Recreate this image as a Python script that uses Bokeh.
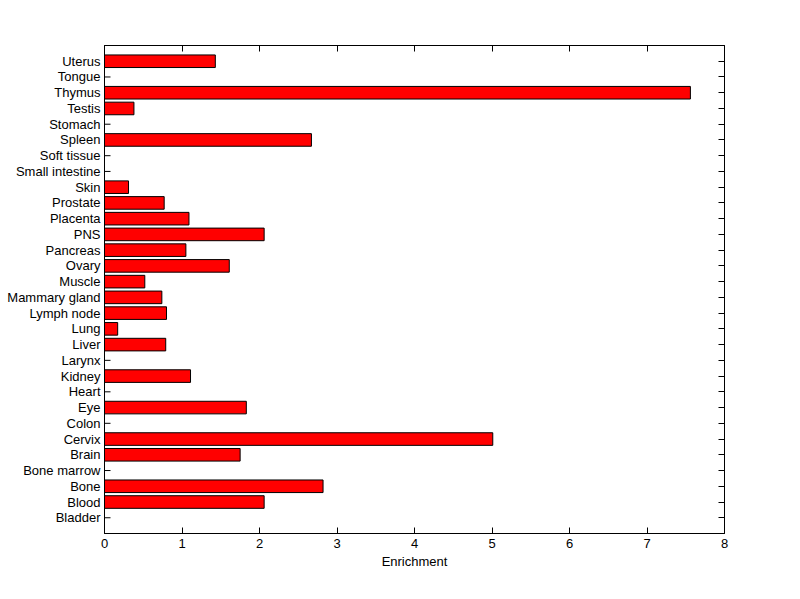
import math
from bokeh.plotting import figure
from bokeh.models import Range1d, FixedTicker, LinearAxis
from bokeh.embed import file_html
from bokeh.resources import INLINE

tissues = ["Bladder", "Blood", "Bone", "Bone marrow", "Brain", "Cervix", "Colon", "Eye",
           "Heart", "Kidney", "Larynx", "Liver", "Lung", "Lymph node", "Mammary gland",
           "Muscle", "Ovary", "Pancreas", "PNS", "Placenta", "Prostate", "Skin",
           "Small intestine", "Soft tissue", "Spleen", "Stomach", "Testis", "Thymus",
           "Tongue", "Uterus"]
enrichment = [0.0, 2.06, 2.82, 0.0, 1.75, 5.01, 0.0, 1.83,
              0.0, 1.11, 0.0, 0.79, 0.17, 0.80, 0.74,
              0.52, 1.61, 1.05, 2.06, 1.09, 0.77, 0.31,
              0.0, 0.0, 2.67, 0.0, 0.38, 7.56,
              0.0, 1.43]
x_ticks = [0, 1, 2, 3, 4, 5, 6, 7, 8]

positions = list(range(1, len(tissues) + 1))
FONT = "Liberation Sans"

p = figure(width=784, height=583, output_backend="svg", toolbar_location=None,
           x_range=Range1d(0, 8), y_range=Range1d(0, len(tissues) + 1),
           x_axis_location=None, y_axis_location=None,
           min_border_left=104, min_border_right=56, min_border_top=45, min_border_bottom=42)
p.frame_width = 620
p.frame_height = 488
p.grid.visible = False
p.outline_line_color = "black"
p.outline_line_width = 1
p.background_fill_color = "white"
p.border_fill_color = "white"

# inward tick marks on the left edge, drawn beneath the bars
p.ray(x=[0] * len(positions), y=positions, length=6, length_units="screen",
      angle=0, line_color="black", line_width=1, level="underlay")

p.hbar(y=positions, right=enrichment, left=0, height=0.8,
       fill_color="#ff0000", line_color="black", line_width=1)

label_map = {pos: name for pos, name in zip(positions, tissues)}


def style(ax, labels=True):
    ax.major_tick_in = 6
    ax.major_tick_out = 0
    ax.minor_tick_in = 0
    ax.minor_tick_out = 0
    ax.axis_line_color = "black"
    ax.major_tick_line_color = "black"
    ax.major_label_text_font = FONT
    ax.major_label_text_font_size = "13px"
    ax.major_label_text_color = "black"
    if not labels:
        ax.major_label_text_alpha = 0
        ax.major_label_text_font_size = "1px"


bottom = LinearAxis(ticker=FixedTicker(ticks=x_ticks), axis_label="Enrichment")
style(bottom)
bottom.major_label_standoff = 5
bottom.axis_label_standoff = 3
bottom.axis_label_text_font = FONT
bottom.axis_label_text_font_size = "13px"
bottom.axis_label_text_font_style = "normal"
bottom.axis_label_text_color = "black"
p.add_layout(bottom, "below")

top = LinearAxis(ticker=FixedTicker(ticks=x_ticks))
style(top, labels=False)
p.add_layout(top, "above")

left = LinearAxis(ticker=FixedTicker(ticks=positions), major_label_overrides=label_map)
style(left)
left.major_tick_in = 0
left.major_label_standoff = 4
p.add_layout(left, "left")

right = LinearAxis(ticker=FixedTicker(ticks=positions))
style(right, labels=False)
p.add_layout(right, "right")

open("out.html", "w").write(file_html(p, INLINE))
